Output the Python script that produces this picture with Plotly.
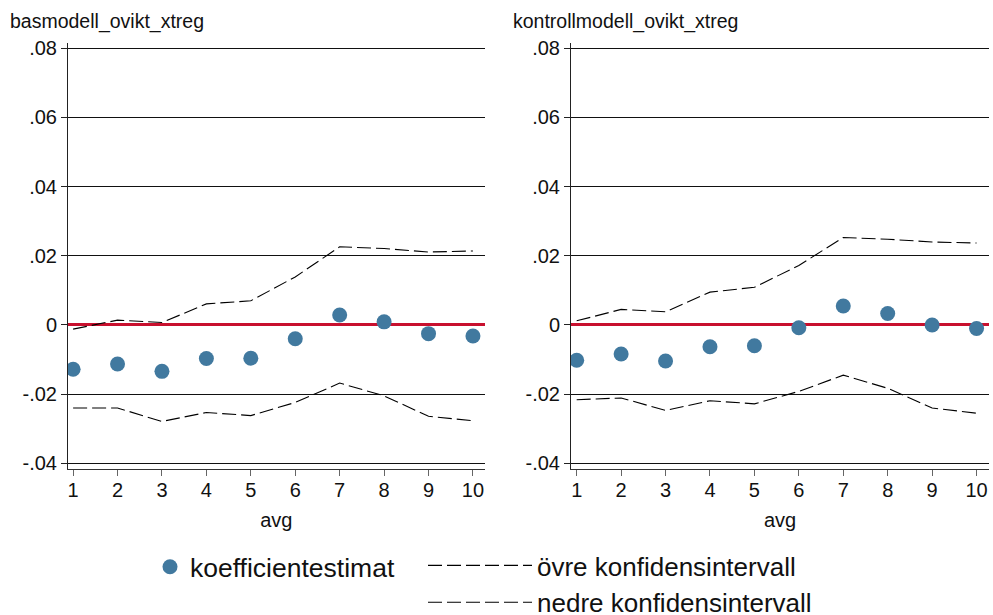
import plotly.graph_objects as go

avg = [1, 2, 3, 4, 5, 6, 7, 8, 9, 10]

bas_coef = [-0.0128, -0.0113, -0.0134, -0.0097, -0.0096, -0.0040, 0.0029, 0.0009, -0.0025, -0.0032]
bas_upper = [-0.0012, 0.0014, 0.0007, 0.0061, 0.0070, 0.0139, 0.0226, 0.0221, 0.0211, 0.0214]
bas_lower = [-0.0240, -0.0240, -0.0279, -0.0253, -0.0262, -0.0224, -0.0168, -0.0205, -0.0264, -0.0277]

kon_coef = [-0.0102, -0.0084, -0.0104, -0.0063, -0.0060, -0.0008, 0.0055, 0.0033, 0.0000, -0.0010]
kon_upper = [0.0012, 0.0045, 0.0038, 0.0095, 0.0109, 0.0172, 0.0253, 0.0248, 0.0240, 0.0237]
kon_lower = [-0.0216, -0.0211, -0.0247, -0.0219, -0.0228, -0.0192, -0.0145, -0.0183, -0.0240, -0.0255]

panel_titles = ["basmodell_ovikt_xtreg", "kontrollmodell_ovikt_xtreg"]
ytick_vals = [-0.04, -0.02, 0, 0.02, 0.04, 0.06, 0.08]
ytick_text = ["-.04", "-.02", "0", ".02", ".04", ".06", ".08"]
names = ["koefficientestimat", "övre konfidensintervall", "nedre konfidensintervall"]

W, H = 993, 615
FONT = "Liberation Sans, Arial, sans-serif"
MARKER = "#41799F"
RED = "#C8102E"
DASH = "14px,5px"

fig = go.Figure()

panels = [(bas_coef, bas_upper, bas_lower), (kon_coef, kon_upper, kon_lower)]
for i, (c, u, l) in enumerate(panels):
    xa = "x" if i == 0 else "x2"
    ya = "y" if i == 0 else "y2"
    show = i == 0
    fig.add_trace(go.Scatter(x=avg, y=u, mode="lines", name=names[1], xaxis=xa, yaxis=ya,
                             line=dict(color="black", width=1.1, dash=DASH),
                             showlegend=show, legend="legend2", legendrank=1))
    fig.add_trace(go.Scatter(x=avg, y=l, mode="lines", name=names[2], xaxis=xa, yaxis=ya,
                             line=dict(color="black", width=1.1, dash=DASH),
                             showlegend=show, legend="legend2", legendrank=2))
    fig.add_trace(go.Scatter(x=avg, y=c, mode="markers", name=names[0], xaxis=xa, yaxis=ya,
                             marker=dict(color=MARKER, size=15, line=dict(width=0)),
                             showlegend=show, legend="legend"))

xdomains = [[68 / W, 484.5 / W], [571 / W, 989 / W]]
xranges = [[0.885, 10.26], [0.872, 10.28]]
ydomain = [1 - 469 / H, 1 - 43 / H]
yrange = [-0.04164, 0.08153]

for i in range(2):
    sx = "" if i == 0 else "2"
    fig.layout["xaxis" + sx] = dict(
        domain=xdomains[i], range=xranges[i], anchor="y" + sx,
        tickvals=avg, ticktext=[str(v) for v in avg],
        ticks="outside", ticklen=6, tickcolor="#666", tickwidth=1,
        showline=True, linecolor="#333", linewidth=1,
        showgrid=False, zeroline=False,
        tickfont=dict(family=FONT, size=20, color="#111"),
        ticklabelstandoff=-3,
        title=dict(text="avg", font=dict(family=FONT, size=20, color="#111"), standoff=12),
        automargin=False,
    )
    fig.layout["yaxis" + sx] = dict(
        domain=ydomain, range=yrange, anchor="x" + sx,
        tickvals=ytick_vals, ticktext=ytick_text,
        ticks="outside", ticklen=6, tickcolor="#222", tickwidth=1,
        showline=True, linecolor="#222", linewidth=1,
        showgrid=True, gridcolor="#111", gridwidth=1,
        zeroline=True, zerolinecolor=RED, zerolinewidth=3,
        tickfont=dict(family=FONT, size=20, color="#111"),
        automargin=False,
    )
    fig.add_annotation(text=panel_titles[i], xref="paper", yref="paper",
                       x=(8 if i == 0 else 511) / W, y=1 - 21 / H,
                       xanchor="left", yanchor="middle", showarrow=False,
                       font=dict(family=FONT, size=19.5, color="#111"))

fig.update_layout(
    width=W, height=H,
    margin=dict(l=0, r=0, t=0, b=0, autoexpand=False),
    template="none",
    paper_bgcolor="white", plot_bgcolor="white",
    font=dict(family=FONT, color="#111"),
    legend=dict(x=150 / W, y=1 - 543 / H, xanchor="left", yanchor="top",
                font=dict(family=FONT, size=26.5, color="#111"), bgcolor="rgba(0,0,0,0)"),
    legend2=dict(x=423 / W, y=1 - 542 / H, xanchor="left", yanchor="top",
                 font=dict(family=FONT, size=26, color="#111"), bgcolor="rgba(0,0,0,0)",
                 itemwidth=104, tracegroupgap=0),
)

fig.write_html("out.html", config={"displayModeBar": False},
               post_script="document.body.style.margin='0';")
